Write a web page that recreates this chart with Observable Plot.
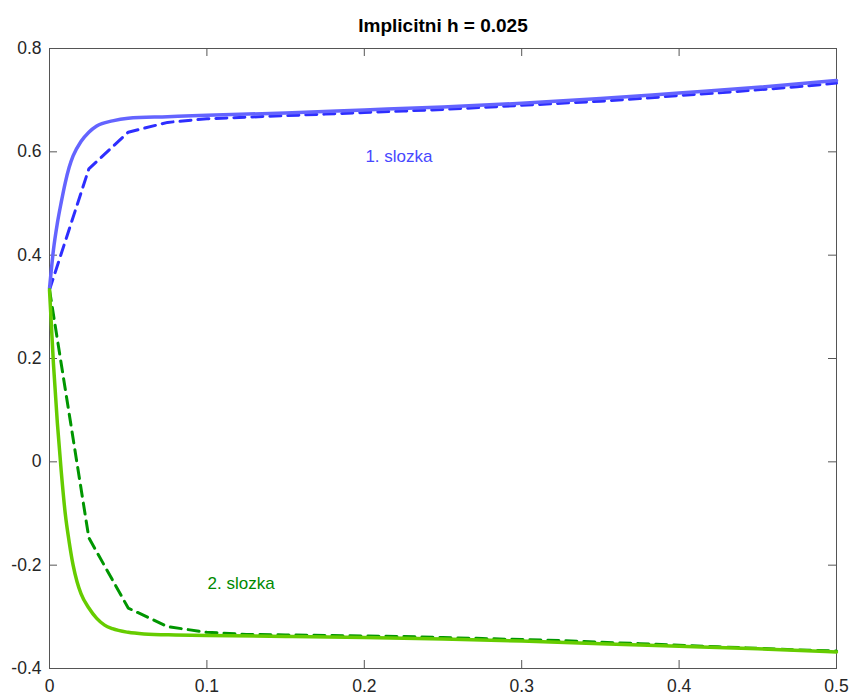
<!DOCTYPE html>
<html>
<head>
<meta charset="utf-8">
<script src="https://cdn.jsdelivr.net/npm/d3@7"></script>
<script src="https://cdn.jsdelivr.net/npm/@observablehq/plot@0.6"></script>
<style>
  html, body { margin: 0; padding: 0; background: #fff; }
</style>
</head>
<body>
<div id="chart"></div>
<script>
// ---- data ----
const chartTitle = "Implicitni h = 0.025";

// exact (solid) curves
const solidX1 = [0, 0.0025, 0.005, 0.0075, 0.01, 0.0125, 0.015, 0.02, 0.025, 0.03, 0.04, 0.05, 0.075, 0.1, 0.15, 0.2, 0.25, 0.3, 0.35, 0.4, 0.45, 0.5];
const solidY1 = [0.335, 0.41, 0.462, 0.503, 0.54, 0.57, 0.592, 0.62, 0.638, 0.650, 0.660, 0.665, 0.668, 0.671, 0.675, 0.681, 0.687, 0.694, 0.703, 0.714, 0.725, 0.738];

const solidX2 = [0, 0.0025, 0.005, 0.0075, 0.01, 0.0125, 0.015, 0.0175, 0.02, 0.025, 0.03, 0.035, 0.04, 0.05, 0.06, 0.08, 0.1, 0.15, 0.2, 0.25, 0.3, 0.35, 0.4, 0.45, 0.5];
const solidY2 = [0.333, 0.19, 0.075, -0.02, -0.10, -0.155, -0.20, -0.232, -0.255, -0.283, -0.303, -0.316, -0.323, -0.330, -0.333, -0.335, -0.336, -0.338, -0.340, -0.343, -0.347, -0.352, -0.357, -0.362, -0.368];

// implicit method, step h = 0.025 (dashed)
const stepX = [0, 0.025, 0.05, 0.075, 0.1, 0.125, 0.15, 0.175, 0.2, 0.225, 0.25, 0.275, 0.3, 0.325, 0.35, 0.375, 0.4, 0.425, 0.45, 0.475, 0.5];
const stepY1 = [0.333, 0.567, 0.638, 0.657, 0.664, 0.667, 0.670, 0.673, 0.676, 0.679, 0.682, 0.686, 0.690, 0.694, 0.698, 0.703, 0.709, 0.714, 0.720, 0.726, 0.733];
const stepY2 = [0.333, -0.147, -0.283, -0.319, -0.330, -0.334, -0.335, -0.336, -0.337, -0.338, -0.340, -0.342, -0.344, -0.346, -0.349, -0.352, -0.355, -0.358, -0.361, -0.364, -0.366];

// annotations
const labelText = ["1. slozka", "2. slozka"];
const labelX = [0.222, 0.1217];
const labelY = [0.591, -0.2355];

// ticks
const xTicks = [0, 0.1, 0.2, 0.3, 0.4, 0.5];
const xTickLabels = ["0", "0.1", "0.2", "0.3", "0.4", "0.5"];
const yTicks = [-0.4, -0.2, 0, 0.2, 0.4, 0.6, 0.8];
const yTickLabels = ["-0.4", "-0.2", "0", "0.2", "0.4", "0.6", "0.8"];

// ---- build ----
const solid1 = solidX1.map((x, i) => ({x, y: solidY1[i]}));
const solid2 = solidX2.map((x, i) => ({x, y: solidY2[i]}));
const step1 = stepX.map((x, i) => ({x, y: stepY1[i]}));
const step2 = stepX.map((x, i) => ({x, y: stepY2[i]}));
const labels = labelText.map((t, i) => ({t, x: labelX[i], y: labelY[i]}));

const W = 850, H = 696;
const mL = 49, mR = 14, mT = 48, mB = 28;
const innerW = W - mL - mR, innerH = H - mT - mB;
const tickLen = 8;
const axisColor = "#555555";

const chart = Plot.plot({
  width: W,
  height: H,
  marginLeft: mL,
  marginRight: mR,
  marginTop: mT,
  marginBottom: mB,
  style: {
    fontFamily: "'Liberation Sans', Arial, sans-serif",
    fontSize: "17.5px",
    color: "#262626",
    background: "#ffffff"
  },
  x: {
    domain: [0, 0.5],
    ticks: xTicks,
    tickSize: 0,
    tickPadding: 11,
    tickFormat: d => xTickLabels[xTicks.findIndex(t => Math.abs(t - d) < 1e-9)],
    label: null
  },
  y: {
    domain: [-0.4, 0.8],
    ticks: yTicks,
    tickSize: 0,
    tickPadding: 8,
    tickFormat: d => yTickLabels[yTicks.findIndex(t => Math.abs(t - d) < 1e-9)],
    label: null
  },
  marks: [
    Plot.frame({stroke: axisColor, strokeWidth: 1}),
    // inward ticks on all four sides
    Plot.tickX(xTicks, {x: d => d, insetTop: innerH - tickLen, stroke: axisColor}),
    Plot.tickX(xTicks, {x: d => d, insetBottom: innerH - tickLen, stroke: axisColor}),
    Plot.tickY(yTicks, {y: d => d, insetRight: innerW - tickLen, stroke: axisColor}),
    Plot.tickY(yTicks, {y: d => d, insetLeft: innerW - tickLen, stroke: axisColor}),
    // component 1
    Plot.line(step1, {x: "x", y: "y", stroke: "#2e2eff", strokeWidth: 3, strokeDasharray: "11,7"}),
    Plot.line(solid1, {x: "x", y: "y", stroke: "#6464ff", strokeWidth: 3.5, curve: "monotone-x"}),
    // component 2
    Plot.line(step2, {x: "x", y: "y", stroke: "#009600", strokeWidth: 3, strokeDasharray: "11,7"}),
    Plot.line(solid2, {x: "x", y: "y", stroke: "#66cc00", strokeWidth: 3.5, curve: "monotone-x"}),
    // labels
    Plot.text(labels, {x: "x", y: "y", text: "t", fill: (d, i) => i === 0 ? "#4848ff" : "#008a00", fontSize: 17, textAnchor: "middle"}),
    // title
    Plot.text([chartTitle], {frameAnchor: "top", lineAnchor: "middle", dy: -23, text: d => d, fontWeight: "bold", fontSize: 19, fill: "#000000"})
  ]
});

document.getElementById("chart").appendChild(chart);
</script>
</body>
</html>
